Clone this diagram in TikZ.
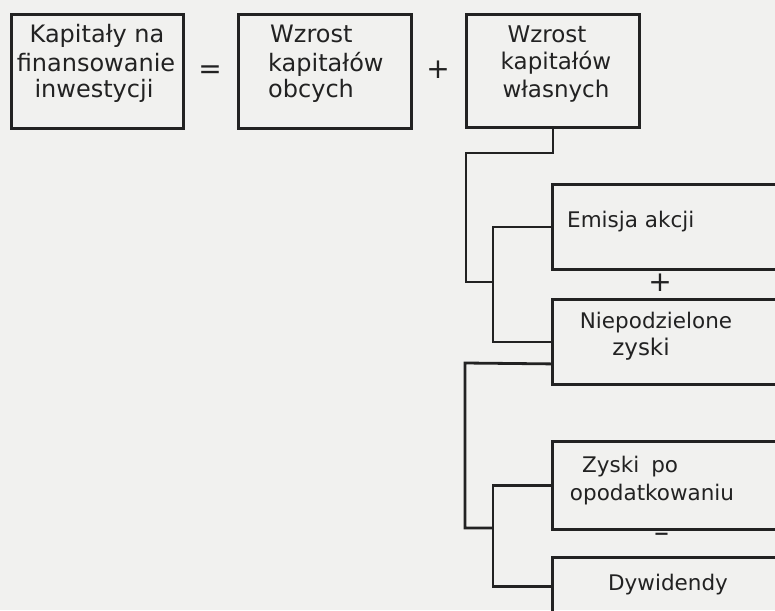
\documentclass[tikz,border=0pt]{standalone}
\usepackage{fontspec}
\setmainfont{DejaVu Sans}
\definecolor{ink}{HTML}{222222}
\definecolor{paper}{HTML}{F1F1EF}
\begin{document}
\begin{tikzpicture}[x=1pt,y=-1pt,
  box/.style={draw=ink,line width=2.8pt,rectangle,inner sep=0pt,anchor=north west},
  txt/.style={text=ink,font=\fontsize{23}{25}\selectfont,inner sep=0pt,anchor=base},
  txtl/.style={txt,anchor=base west},
  big/.style={font=\fontsize{24}{25}\selectfont},
  small/.style={font=\fontsize{21.5}{25}\selectfont},
  op/.style={text=ink,font=\fontsize{28}{28}\selectfont,inner sep=0pt},
  conn/.style={draw=ink,line width=2.8pt,line join=miter}]
\useasboundingbox[fill=paper] (0,0) rectangle (775,610);
\clip (0,0) rectangle (775,610);
% top row
\node[box,minimum width=172pt,minimum height=114pt] (b1) at (10,13) {};
\node[txt,big] (t1a) at (97,43) {Kapitały na};
\node[txt,big] (t1b) at (96,71) {finansowanie};
\node[txt,big] (t1c) at (94,97) {inwestycji};
\node[op] (eq) at (210,72) {=};
\node[box,minimum width=173pt,minimum height=114pt] (b2) at (237,13) {};
\node[txtl,big] (t2a) at (270,43) {Wzrost};
\node[txtl,big] (t2b) at (268,71) {kapitałów};
\node[txtl,big] (t2c) at (268,97) {obcych};
\node[op] (pl1) at (438,70) {+};
\node[box,minimum width=173pt,minimum height=113pt] (b3) at (465,13) {};
\node[txt] (t3a) at (547,42) {Wzrost};
\node[txt] (t3b) at (556,69) {kapitałów};
\node[txt] (t3c) at (556,97) {własnych};
% right column
\node[box,minimum width=249pt,minimum height=85pt] (em) at (551,183) {};
\node[txtl,small] (tem) at (567,227) {Emisja akcji};
\node[op] (pl2) at (660,283) {+};
\node[box,minimum width=249pt,minimum height=85pt] (np) at (551,298) {};
\node[txt,small] (tnpa) at (656,328) {Niepodzielone};
\node[txt] (tnpb) at (641,355) {zyski};
\node[box,minimum width=249pt,minimum height=88pt] (zy) at (551,440) {};
\node[txtl,small] (tzya) at (582,472) {Zyski\hspace{12pt}po};
\node[txt,small] (tzyb) at (652,500) {opodatkowaniu};
\node[op] (mi) at (662,538) {\fontsize{30}{30}\selectfont\textendash};
\node[box,minimum width=249pt,minimum height=58pt] (dy) at (551,556) {};
\node[txt,small] (tdy) at (668,590) {Dywidendy};
% connectors
\coordinate (c1) at (466,153);
\coordinate (j1) at (493,282);
\coordinate (c2) at (465,363);
\coordinate (j2) at (493,528);
\draw[conn] (b3.south) |- (c1) |- (j1);
\draw[conn] (em.west) -| (j1) |- (np.west);
\draw[conn] ([yshift=-22pt]np.west) -- (c2) |- (j2);
\draw[conn] (zy.west) -| (j2) |- (dy.west);
\end{tikzpicture}
\end{document}
